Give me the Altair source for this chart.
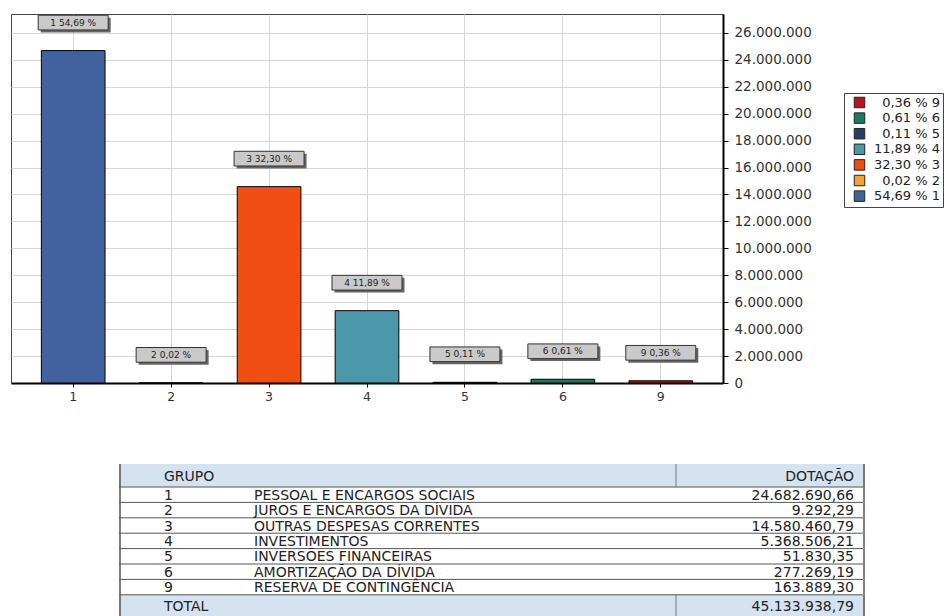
import altair as alt
import pandas as pd

# ---------------- data ----------------
codes = ["1", "2", "3", "4", "5", "6", "9"]
names = [
    "PESSOAL E ENCARGOS SOCIAIS",
    "JUROS E ENCARGOS DA DÍVIDA",
    "OUTRAS DESPESAS CORRENTES",
    "INVESTIMENTOS",
    "INVERSÕES FINANCEIRAS",
    "AMORTIZAÇÃO DA DÍVIDA",
    "RESERVA DE CONTINGÊNCIA",
]
dotacao = [24682690.66, 9292.29, 14580460.79, 5368506.21, 51830.35, 277269.19, 163889.30]
dotacao_text = ["24.682.690,66", "9.292,29", "14.580.460,79", "5.368.506,21",
                "51.830,35", "277.269,19", "163.889,30"]
pcts = ["54,69", "0,02", "32,30", "11,89", "0,11", "0,61", "0,36"]
colors = ["#42629f", "#f4a236", "#f04e12", "#4a98a9", "#293d6d", "#1b7a62", "#c2111b"]
total_text = "45.133.938,79"
y_ticks = [0, 2000000, 4000000, 6000000, 8000000, 10000000, 12000000,
           14000000, 16000000, 18000000, 20000000, 22000000, 24000000, 26000000]

legend_labels = [f"{p} % {c}" for p, c in zip(pcts, codes)]
legend_order = legend_labels[::-1]
legend_colors = colors[::-1]

bars = pd.DataFrame({
    "code": codes,
    "value": dotacao,
    "legend": legend_labels,
    "box": [f"{c} {p} %" for c, p in zip(codes, pcts)],
})

FONT = "DejaVu Sans"

x_scale = alt.Scale(domain=codes, paddingInner=0.35, paddingOuter=0.31)
x_enc = alt.X("code:N", sort=codes, scale=x_scale,
              axis=alt.Axis(title=None, labelAngle=0, labelFont=FONT, labelFontSize=12.5,
                            labelColor="#333", domainColor="black", domainWidth=2,
                            tickColor="black", tickSize=4, labelPadding=3,
                            grid=True, gridColor="#d6d6d6", bandPosition=0.5))
y_scale = alt.Scale(domain=[0, 27400000], nice=False, zero=True)
y_enc = alt.Y("value:Q", scale=y_scale,
              axis=alt.Axis(title=None, orient="right", values=y_ticks,
                            labelExpr="replace(format(datum.value, ','), regexp(',', 'g'), '.')",
                            labelFont=FONT, labelFontSize=13.5, labelColor="#333",
                            labelOverlap=False, labelBound=False,
                            domainColor="black", domainWidth=2, tickColor="black",
                            tickSize=5, labelPadding=6, grid=True, gridColor="#d6d6d6"))

base = alt.Chart(bars)

bar_layer = base.mark_bar(stroke="black", strokeWidth=1).encode(
    x=x_enc, y=y_enc,
    color=alt.Color("legend:N",
                    scale=alt.Scale(domain=legend_order, range=legend_colors),
                    legend=alt.Legend(title=None, orient="none", legendX=833, legendY=79,
                                      symbolType="square", symbolSize=110,
                                      symbolStrokeColor="#222", symbolStrokeWidth=1,
                                      labelFont=FONT, labelFontSize=13, labelColor="#222",
                                      labelAlign="right", labelOffset=74,
                                      symbolOffset=6, strokeColor="#444",
                                      fillColor="white", padding=3, rowPadding=0.6)),
)

box_shape = "M-1,-0.21L1,-0.21L1,0.21L-1,0.21Z"
shadow_layer = base.mark_point(shape=box_shape, size=4900, filled=True, fill="#666",
                               opacity=1, strokeWidth=0, xOffset=2.5, yOffset=-25.5).encode(
    x=x_enc, y=y_enc)
box_layer = base.mark_point(shape=box_shape, size=4900, filled=True, fill="#c9c9c9",
                            stroke="#333", strokeWidth=1, opacity=1, yOffset=-28).encode(
    x=x_enc, y=y_enc)
text_layer = base.mark_text(font=FONT, fontSize=9, color="#222", yOffset=-28,
                            baseline="middle").encode(
    x=x_enc, y=y_enc, text="box:N")

top = alt.layer(bar_layer, shadow_layer, box_layer, text_layer).properties(
    width=712, height=369,
    view=alt.ViewBackground(stroke="#444", strokeWidth=1),
)

# ---------------- table ----------------
HEADER_H = 23.0
ROW_H = 15.4
TOTAL_H = 22.0
rows = []
top_y = 0.0
rows.append({"kind": "header", "code": "GRUPO", "name": "", "val": "DOTAÇÃO",
             "top": top_y, "bottom": top_y + HEADER_H})
top_y += HEADER_H
for c, n, v in zip(codes, names, dotacao_text):
    rows.append({"kind": "row", "code": c, "name": n, "val": v,
                 "top": top_y, "bottom": top_y + ROW_H})
    top_y += ROW_H
rows.append({"kind": "total", "code": "TOTAL", "name": "", "val": total_text,
             "top": top_y, "bottom": top_y + TOTAL_H})
TABLE_H = top_y + TOTAL_H
tdf = pd.DataFrame(rows)
tdf["mid"] = (tdf["top"] + tdf["bottom"]) / 2

ty = alt.Scale(domain=[0, TABLE_H], reverse=True, nice=False, zero=False)
tbase = alt.Chart(tdf)

TL, TR, TDIV = 108, 854, 665

bg = tbase.transform_filter("datum.kind != 'row'").mark_rect(fill="#d5e3f0").encode(
    x=alt.value(TL), x2=alt.value(TR),
    y=alt.Y("top:Q", scale=ty, axis=None), y2="bottom:Q")
row_lines = tbase.transform_filter("datum.kind != 'total'").mark_rule(
    color="#555", strokeWidth=1).encode(
    x=alt.value(TL), x2=alt.value(TR - 2), y=alt.Y("bottom:Q", scale=ty, axis=None))
left_line = tbase.mark_rule(color="#555", strokeWidth=1.5).encode(
    x=alt.value(TL + 1), y=alt.Y("top:Q", scale=ty, axis=None), y2="bottom:Q")
right_line = tbase.mark_rule(color="#555", strokeWidth=1.5).encode(
    x=alt.value(TR - 1), y=alt.Y("top:Q", scale=ty, axis=None), y2="bottom:Q")
div_line = tbase.transform_filter("datum.kind != 'row'").mark_rule(
    color="#777", strokeWidth=1).encode(
    x=alt.value(TDIV), y=alt.Y("top:Q", scale=ty, axis=None), y2="bottom:Q")

code_text = tbase.mark_text(font=FONT, fontSize=14, color="#222", align="left",
                            baseline="middle", dy=1).encode(
    x=alt.value(153), y=alt.Y("mid:Q", scale=ty, axis=None), text="code:N")
name_text = tbase.mark_text(font=FONT, fontSize=14, color="#222", align="left",
                            baseline="middle", dy=1).encode(
    x=alt.value(243), y=alt.Y("mid:Q", scale=ty, axis=None), text="name:N")
val_text = tbase.mark_text(font=FONT, fontSize=14, color="#222", align="right",
                           baseline="middle", dy=1).encode(
    x=alt.value(843), y=alt.Y("mid:Q", scale=ty, axis=None), text="val:N")

table = alt.layer(bg, row_lines, left_line, right_line, div_line,
                  code_text, name_text, val_text).properties(
    width=854, height=TABLE_H,
    view=alt.ViewBackground(stroke="transparent", strokeWidth=0),
)

chart = alt.vconcat(top, table, spacing=60).properties(
    padding={"left": 2, "top": 4, "right": 0, "bottom": 0}
).configure(background="white")

chart.save("out.html", embed_options={"renderer": "svg", "actions": False})
